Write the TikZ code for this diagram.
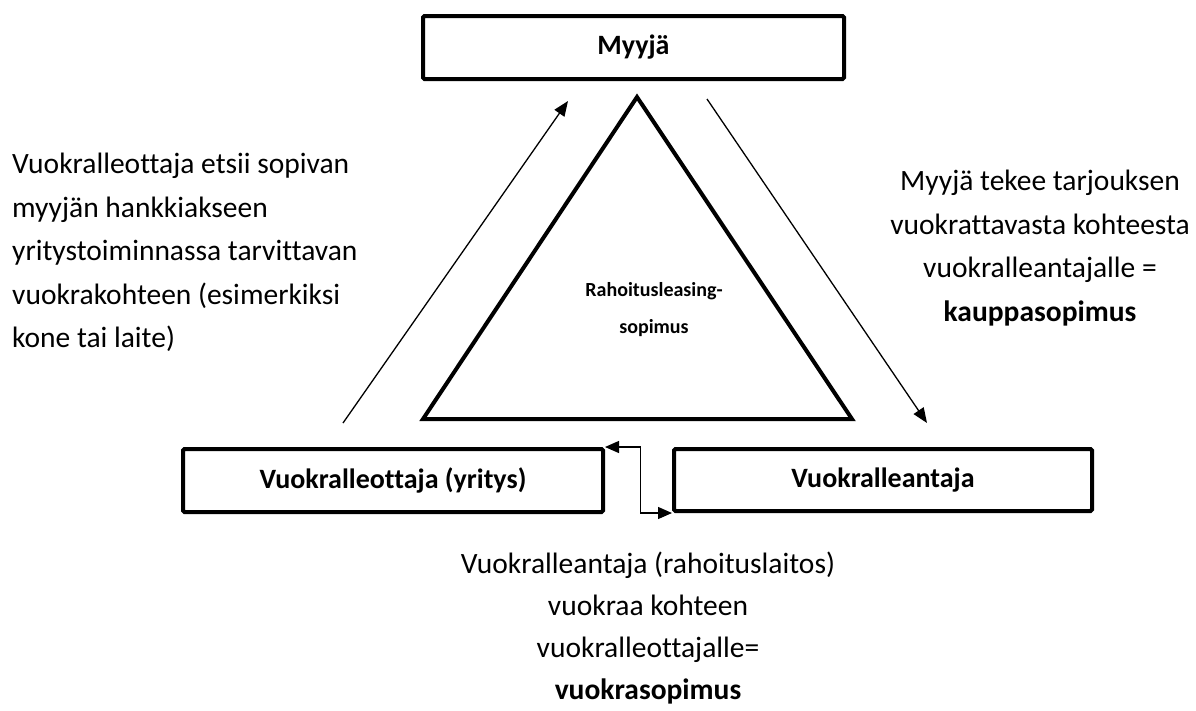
\documentclass[tikz,border=0pt]{standalone}
\usepackage{fontspec}
\setmainfont[Ligatures={NoCommon}]{Carlito}
\usetikzlibrary{arrows.meta}
\begin{document}
\begin{tikzpicture}[x=1pt,y=-1pt,
  box/.style={draw,line width=4pt,rounded corners=1.5pt,inner sep=0pt,font=\fontsize{28}{32}\selectfont\bfseries},
  desc/.style={inner sep=0pt,font=\fontsize{29.5}{43.5}\selectfont},
  tri/.style={draw,line width=4pt,line join=miter},
  arr/.style={line width=1.3pt,-{Triangle[length=15pt,width=12pt]}},
  dblarr/.style={line width=1.3pt,{Triangle[length=14pt,width=12pt]}-{Triangle[length=14pt,width=12pt]}},
]
\useasboundingbox (0,0) rectangle (1196,710);
% boxes
\node[box,minimum width=421pt,minimum height=63pt] (myyja) at (633.5,47.5) {Myyjä};
\node[box,minimum width=420pt,minimum height=63pt] (ottaja) at (393,480.5) {Vuokralleottaja (yritys)};
\node[box,minimum width=418pt,minimum height=62pt] (antaja) at (883,480) {Vuokralleantaja};
% triangle
\coordinate (tA) at (637,97);
\coordinate (tL) at (423,419);
\coordinate (tR) at (852,419);
\draw[tri] (tA) -- (tL) -- (tR) -- cycle;
\node[inner sep=0pt,align=center,anchor=north,font=\fontsize{20}{37}\selectfont\bfseries] (tlabel) at (654,282) {Rahoitusleasing-\\sopimus};
% arrows
\coordinate (a1s) at (343,423);
\coordinate (a1e) at (568,101);
\coordinate (a2s) at (707,99);
\coordinate (a2e) at (927,423);
\draw[arr] (a1s) -- (a1e);
\draw[arr] (a2s) -- (a2e);
\draw[dblarr] (ottaja.north east) -- ++(35.5,0) |- (antaja.south west);
% texts
\node[desc,align=left,anchor=north west] (ltext) at (12,153) {Vuokralleottaja etsii sopivan\\myyjän hankkiakseen\\yritystoiminnassa tarvittavan\\vuokrakohteen (esimerkiksi\\kone tai laite)};
\node[desc,align=center,anchor=north] (rtext) at (1040,170) {Myyjä tekee tarjouksen\\vuokrattavasta kohteesta\\vuokralleantajalle =\\\textbf{kauppasopimus}};
\node[desc,align=center,anchor=north,font=\fontsize{29.5}{42}\selectfont] (btext) at (648,552) {Vuokralleantaja (rahoituslaitos)\\vuokraa kohteen\\vuokralleottajalle=\\\textbf{vuokrasopimus}};
\end{tikzpicture}
\end{document}
